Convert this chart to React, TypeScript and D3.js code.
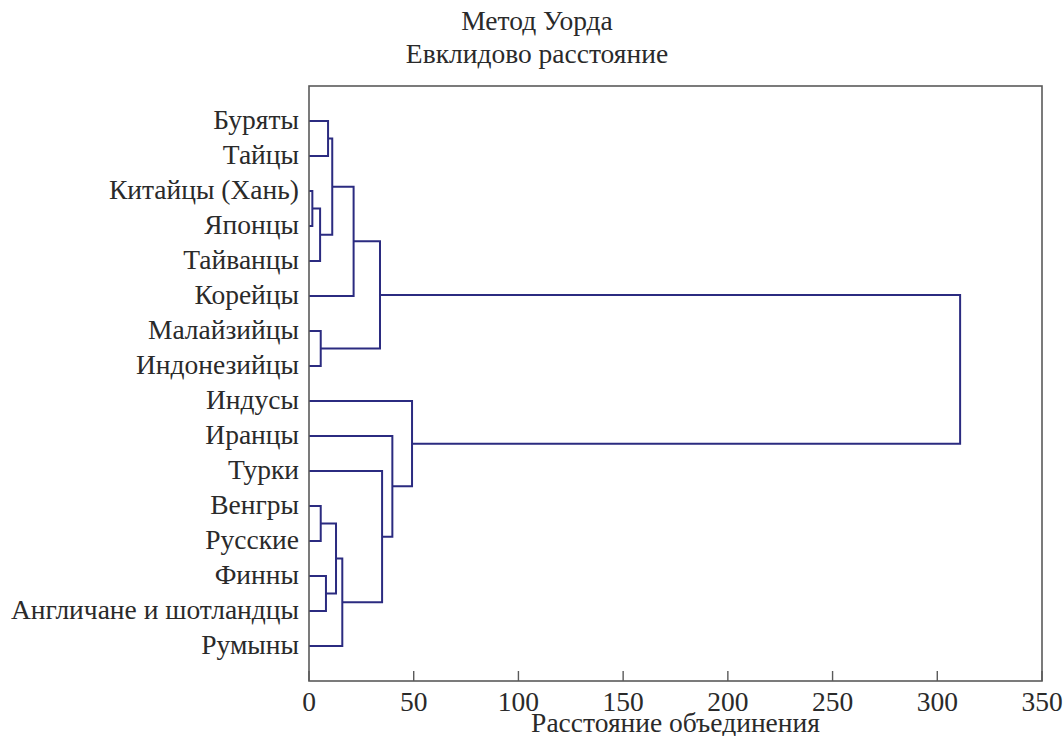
import React from "react";
import * as d3 from "d3";

const leafLabels = [
  "Буряты",
  "Тайцы",
  "Китайцы (Хань)",
  "Японцы",
  "Тайванцы",
  "Корейцы",
  "Малайзийцы",
  "Индонезийцы",
  "Индусы",
  "Иранцы",
  "Турки",
  "Венгры",
  "Русские",
  "Финны",
  "Англичане и шотландцы",
  "Румыны",
];

// linkage: node ids 0..15 are leaves, 16.. are merges in order
const mergeLeft = [2, 16, 11, 6, 13, 0, 21, 18, 23, 22, 25, 10, 9, 8, 26];
const mergeRight = [3, 4, 12, 7, 14, 1, 17, 20, 15, 5, 19, 24, 27, 28, 29];
const mergeHeight = [1.6, 5.3, 5.6, 5.6, 8.1, 9.1, 11.1, 12.9, 15.9, 21.3, 33.9, 34.9, 39.8, 49.2, 310.9];

const xTicks = [0, 50, 100, 150, 200, 250, 300, 350];
const titleLines = ["Метод Уорда", "Евклидово расстояние"];
const xLabel = "Расстояние объединения";

export default function App() {
  const W = 1063;
  const H = 736;
  const left = 309;
  const right = 1042;
  const top = 86;
  const bottom = 681;
  const x = d3.scaleLinear().domain([0, 350]).range([left, right]);
  const y = d3.scaleLinear().domain([0, leafLabels.length + 1]).range([top, bottom]);

  const n = leafLabels.length;
  const nodeY: number[] = leafLabels.map((_, i) => y(i + 1));
  const nodeH: number[] = leafLabels.map(() => 0);
  const paths: string[] = [];
  mergeLeft.forEach((l, k) => {
    const r = mergeRight[k];
    const h = mergeHeight[k];
    const yl = nodeY[l];
    const yr = nodeY[r];
    const p = d3.path();
    p.moveTo(x(nodeH[l]), yl);
    p.lineTo(x(h), yl);
    p.lineTo(x(h), yr);
    p.lineTo(x(nodeH[r]), yr);
    paths.push(p.toString());
    nodeY[n + k] = (yl + yr) / 2;
    nodeH[n + k] = h;
  });

  const font = "'Liberation Serif', 'Times New Roman', serif";
  const fs = 27.5;
  const textColor = "#2a2a2a";
  const axisColor = "#5a5a5a";
  const lineColor = "#2b2b80";

  return (
    <svg
      width={W}
      height={H}
      style={{ position: "absolute", left: 0, top: 0, background: "#fff" }}
      fontFamily={font}
    >
      <rect x={0} y={0} width={W} height={H} fill="#fff" />
      {titleLines.map((t, i) => (
        <text key={t} x={537} y={30 + i * 33} textAnchor="middle" fontSize={fs} fill={textColor}>
          {t}
        </text>
      ))}
      {paths.map((d, i) => (
        <path key={i} d={d} fill="none" stroke={lineColor} strokeWidth={2} />
      ))}
      <rect
        x={left}
        y={top}
        width={right - left}
        height={bottom - top}
        fill="none"
        stroke={axisColor}
        strokeWidth={1.6}
      />
      {xTicks.map((t) => (
        <g key={t}>
          <line x1={x(t)} x2={x(t)} y1={bottom} y2={bottom - 10} stroke={axisColor} strokeWidth={1.4} />
          <text x={x(t)} y={711} textAnchor="middle" fontSize={fs} fill={textColor}>
            {t}
          </text>
        </g>
      ))}
      {leafLabels.map((lab, i) => (
        <text key={lab} x={299} y={y(i + 1) + 8} textAnchor="end" fontSize={fs} fill={textColor}>
          {lab}
        </text>
      ))}
      <text x={(left + right) / 2} y={732} textAnchor="middle" fontSize={fs} fill={textColor}>
        {xLabel}
      </text>
    </svg>
  );
}
